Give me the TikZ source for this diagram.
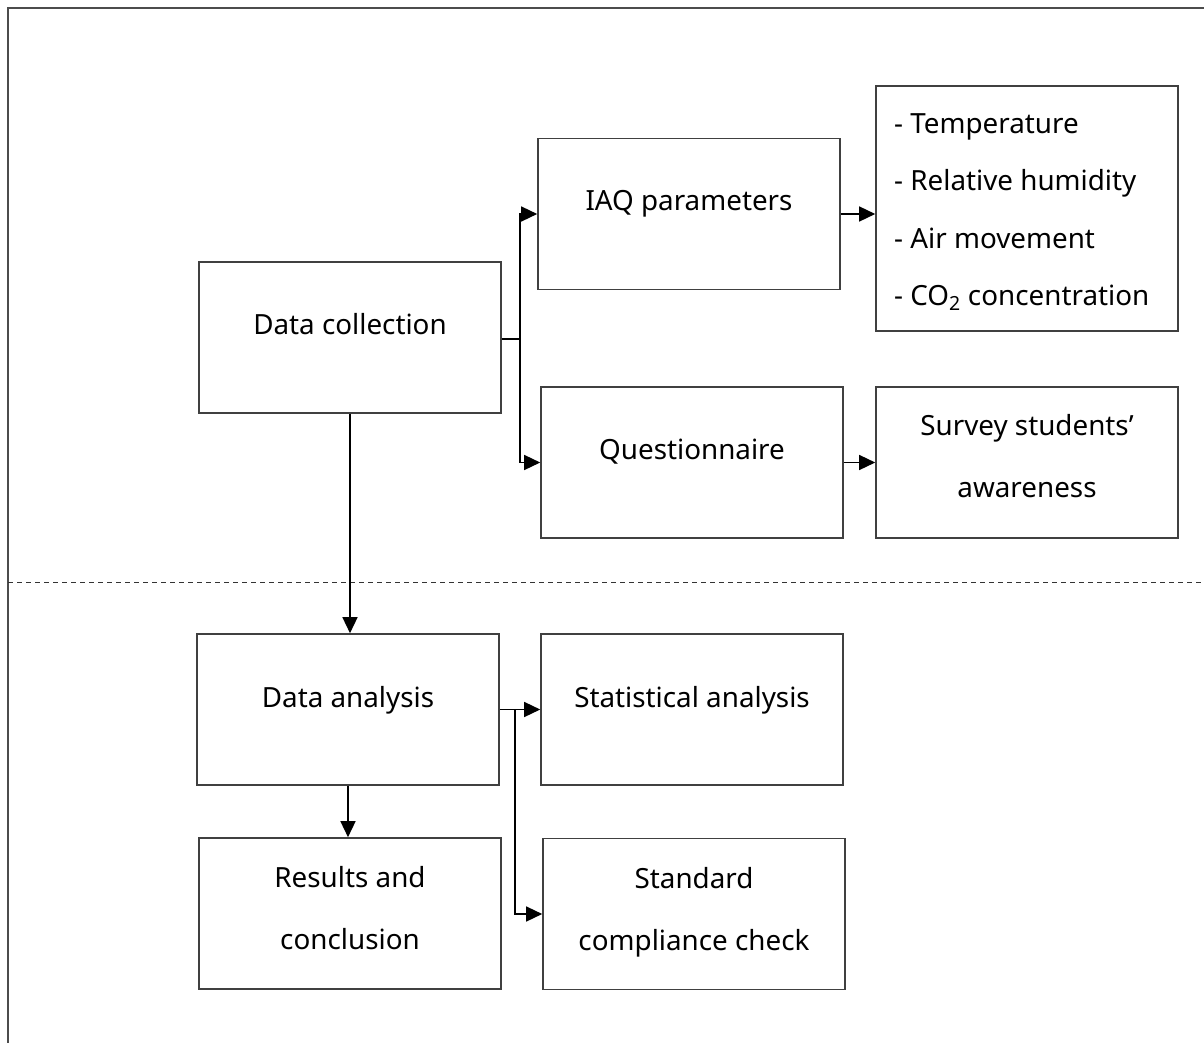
\documentclass[tikz,border=0pt]{standalone}
\usepackage{fontspec}
\setmainfont{Noto Sans}
\usetikzlibrary{arrows.meta}
\begin{document}
\begin{tikzpicture}[x=1pt,y=-1pt,
  box/.style={draw=black!75,line width=1.6pt,minimum width=302pt,minimum height=151pt,inner sep=0pt},
  label/.style={inner sep=0pt,anchor=base,font=\fontsize{27.8pt}{32pt}\selectfont},
  listitem/.style={label,anchor=base west},
  conn/.style={draw=black,line width=1.4pt},
  arr/.style={conn,-{Triangle[length=16pt,width=15pt]}},
  frame/.style={draw=black!70,line width=1.8pt}]
\useasboundingbox (0,0) rectangle (1204,1043);

% outer frame and section divider
\coordinate (fbl) at (8,1043);
\coordinate (ftl) at (8,8);
\coordinate (ftr) at (1204,8);
\draw[frame] (fbl) -- (ftl) -- (ftr);
\coordinate (dl) at (8,582);
\coordinate (dr) at (1204,582);
\draw[black!80,line width=1pt,dash pattern=on 5pt off 4pt] (dl) -- (dr);

% boxes
\node[box] (dc) at (350,337.5) {};
\node[box] (iaq) at (689,214) {};
\node[box,minimum height=245pt] (par) at (1027,208.5) {};
\node[box] (qn) at (692,462.5) {};
\node[box] (sv) at (1027,462.5) {};
\node[box] (da) at (348,709.5) {};
\node[box] (st) at (692,709.5) {};
\node[box] (rc) at (350,913.5) {};
\node[box] (sc) at (694,914) {};

% texts
\node[label] (tdc) at (350,334) {Data collection};
\node[label] (tiaq) at (689,211) {IAQ parameters};
\node[listitem] (p1) at (894,134) {- Temperature};
\node[listitem] (p2) at (894,191) {- Relative humidity};
\node[listitem] (p3) at (894,248) {- Air movement};
\node[listitem] (p4) at (894,305) {- CO\textsubscript{2} concentration};
\node[label] (tqn) at (692,459) {Questionnaire};
\node[label] (tsv1) at (1027,435) {Survey students’};
\node[label] (tsv2) at (1027,497) {awareness};
\node[label] (tda) at (348,707) {Data analysis};
\node[label] (tst) at (692,707) {Statistical analysis};
\node[label] (trc1) at (350,887) {Results and};
\node[label] (trc2) at (350,949) {conclusion};
\node[label] (tsc1) at (694,888) {Standard};
\node[label] (tsc2) at (694,950) {compliance check};

% connectors: data collection branch
\coordinate (b1) at (520,339);
\draw[conn] (dc.east |- b1) -- (b1);
\draw[arr] (b1) |- (iaq.west);
\draw[arr] (b1) |- (qn.west);
\draw[arr] (iaq.east) -- (iaq.east -| par.west);
\draw[arr] (qn.east) -- (sv.west);
\draw[arr] (dc.south) -- (dc.south |- da.north);

% connectors: data analysis branch
\coordinate (b2) at (515,709.5);
\draw[arr] (da.east) -- (st.west);
\draw[arr] (b2) |- (sc.west);
\draw[arr] (da.south) -- (da.south |- rc.north);
\end{tikzpicture}
\end{document}
